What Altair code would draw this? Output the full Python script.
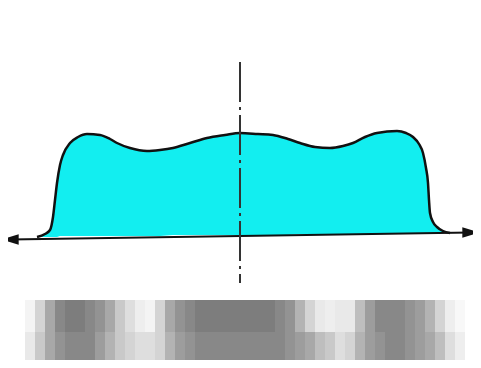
import altair as alt
import pandas as pd

# outline of the cyan profile (page-pixel-like coordinates)
px = [37, 45, 50, 53, 55, 57, 60, 63, 70, 78, 87, 100, 110, 117, 130, 147, 160, 173, 190, 207,
      225, 240, 258, 273, 288, 300, 315, 330, 343, 353, 365, 377, 397, 406, 413, 419, 423, 426,
      428, 429, 430, 433, 437, 443, 450]
py = [237, 234, 230, 217, 200, 183, 165, 155, 143, 137, 134, 135, 139, 143, 148, 151, 150, 148, 143, 138,
      135, 133, 134, 135, 139, 143, 147, 148, 146, 143, 137, 133, 131, 133, 137, 144, 153, 168,
      183, 200, 213, 222, 227, 231, 233]
pbase = [237, 237, 237, 237, 237, 237, 236, 236, 236, 236, 236, 236, 236, 236, 236, 236, 236, 235, 235, 235,
         235, 235, 235, 235, 235, 234, 234, 234, 234, 234, 234, 234, 234, 234, 234, 234, 234, 234,
         234, 234, 234, 233, 233, 233, 233]

# axis line with arrows
ax_x = [10, 471]
ax_y = [239.5, 232.5]

# dash-dot centre line
cl_x = [240]
cl_y0 = [62]
cl_y1 = [283]

# speckle band: 10px columns, darkness of top half and bottom half
sp_x0 = [25, 35, 45, 55, 65, 75, 85, 95, 105, 115, 125, 135, 145, 155, 165, 175, 185, 195, 205, 215,
         225, 235, 245, 255, 265, 275, 285, 295, 305, 315, 325, 335, 345, 355, 365, 375, 385, 395,
         405, 415, 425, 435, 445, 455]
sp_top = [0.05, 0.2, 0.4, 0.55, 0.6, 0.6, 0.55, 0.5, 0.4, 0.25, 0.15, 0.08, 0.05, 0.2, 0.4, 0.5, 0.55, 0.6,
          0.6, 0.6, 0.6, 0.6, 0.6, 0.6, 0.6, 0.55, 0.5, 0.35, 0.2, 0.1, 0.08, 0.1, 0.1, 0.3, 0.45, 0.55,
          0.55, 0.55, 0.5, 0.45, 0.35, 0.2, 0.08, 0.03]
sp_bot = [0.1, 0.25, 0.4, 0.5, 0.55, 0.55, 0.55, 0.45, 0.35, 0.25, 0.2, 0.15, 0.15, 0.2, 0.35, 0.45, 0.5, 0.55,
          0.55, 0.55, 0.55, 0.55, 0.55, 0.55, 0.55, 0.55, 0.5, 0.45, 0.4, 0.3, 0.25, 0.15, 0.2, 0.35, 0.45, 0.5,
          0.55, 0.55, 0.5, 0.45, 0.4, 0.3, 0.15, 0.08]
band_top, band_mid, band_bot = 300, 332, 364

W, H = 465, 352
xs = alt.Scale(domain=[8, 8 + W], nice=False, zero=False)
ys = alt.Scale(domain=[8, 8 + H], nice=False, zero=False, reverse=True)

prof = pd.DataFrame({"x": px, "y": py, "b": pbase})
axis_df = pd.DataFrame({"x": ax_x, "y": ax_y})
cl_df = pd.DataFrame({"x": cl_x, "y0": cl_y0, "y1": cl_y1})
rows = []
for x0, t, b in zip(sp_x0, sp_top, sp_bot):
    rows.append({"x0": x0, "x1": x0 + 10, "y0": band_top, "y1": band_mid, "d": t * 0.85})
    rows.append({"x0": x0, "x1": x0 + 10, "y0": band_mid, "y1": band_bot, "d": b * 0.85})
sp_df = pd.DataFrame(rows)
arr_df = pd.DataFrame({"x": ax_x, "y": ax_y,
                       "s": ["M-1,0 L1,-0.6 L1,0.6 Z", "M1,0 L-1,-0.6 L-1,0.6 Z"]})

X = lambda f: alt.X(f, type="quantitative", scale=xs, axis=None)
Y = lambda f: alt.Y(f, type="quantitative", scale=ys, axis=None)

area = alt.Chart(prof).mark_area(color="#12EEF0", interpolate="monotone", opacity=1).encode(
    x=X("x"), y=Y("y"), y2="b")
outline = alt.Chart(prof).mark_line(color="#111", strokeWidth=2.5, interpolate="monotone").encode(
    x=X("x"), y=Y("y"))
axis_line = alt.Chart(axis_df).mark_line(color="#111", strokeWidth=2.2).encode(x=X("x"), y=Y("y"))
arrows = alt.Chart(arr_df).mark_point(filled=True, color="#111", size=300, opacity=1).encode(
    x=X("x"), y=Y("y"), shape=alt.Shape("s:N", scale=None))
centre = alt.Chart(cl_df).mark_rule(color="#333", strokeWidth=2, strokeDash=[40, 5, 3, 5]).encode(
    x=X("x"), y=Y("y0"), y2="y1")
speck = alt.Chart(sp_df).mark_rect(color="#000", strokeWidth=0).encode(
    x=X("x0"), x2="x1", y=Y("y0"), y2="y1",
    opacity=alt.Opacity("d:Q", scale=None, legend=None))

chart = alt.layer(speck, area, outline, axis_line, arrows, centre).properties(
    width=W, height=H, padding=0, background="white",
    autosize=alt.AutoSizeParams(type="none")
).configure_view(strokeWidth=0, stroke="transparent")

chart.save("out.html", embed_options={"renderer": "svg", "actions": False})
